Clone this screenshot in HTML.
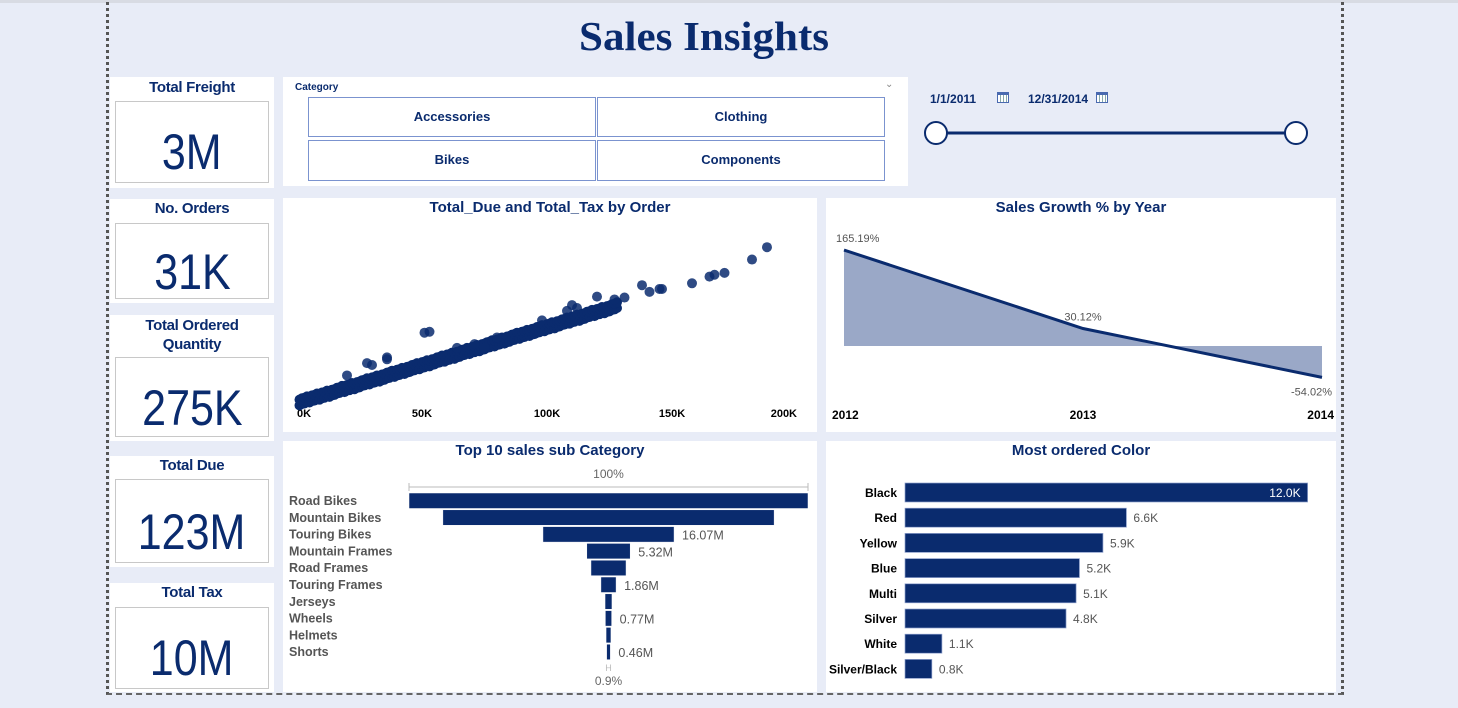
<!DOCTYPE html>
<html><head><meta charset="utf-8">
<style>
*{margin:0;padding:0;box-sizing:border-box}
body{width:1458px;height:701px;background:#e8ecf7;position:relative;overflow:hidden;font-family:"Liberation Sans Narrow","Liberation Sans",sans-serif;color:#0a2b6e}
.abs{position:absolute}
.panel{position:absolute;background:#fff}
.kt{position:absolute;left:0;right:0;text-align:center;font-weight:bold;font-size:15px;color:#0a2b6e;letter-spacing:-0.3px}
.kb{position:absolute;border:1px solid #c8c8c8;background:#fff;text-align:center;font-size:50px;color:#0a2b6e}
.kb span{display:inline-block;transform:scaleX(0.86)}
.btn{position:absolute;border:1px solid #7b93cf;background:#fff;text-align:center;font-weight:bold;font-size:13px;line-height:38px;color:#0a2b6e}
.ct{position:absolute;left:0;right:0;text-align:center;font-weight:bold;font-size:15px;color:#0a2b6e}
svg text{font-family:"Liberation Sans Narrow","Liberation Sans",sans-serif}
</style></head><body>
<div class="abs" style="left:0;top:0;width:1458px;height:3px;background:#d8dbe3"></div>
<div class="abs" style="left:106px;top:2px;width:1238px;height:693px;border-left:3px dotted #555;border-right:3px dotted #555;border-bottom:2px dashed #666"></div>
<div class="abs" style="left:0;top:12px;width:1408px;text-align:center;font-family:'Liberation Serif',serif;font-weight:bold;font-size:41px;color:#0a2b6e"><span style="display:inline-block;transform:scaleX(1.05)">Sales Insights</span></div>

<div class="panel" style="left:110px;top:77px;width:164px;height:111px"><div class="kt" style="top:2px">Total Freight</div><div class="kb" style="left:5px;top:24px;width:154px;height:82px;line-height:100px"><span>3M</span></div></div>
<div class="panel" style="left:110px;top:199px;width:164px;height:104px"><div class="kt" style="top:1px">No. Orders</div><div class="kb" style="left:5px;top:24px;width:154px;height:76px;line-height:96px"><span>31K</span></div></div>
<div class="panel" style="left:110px;top:315px;width:164px;height:126px"><div class="kt" style="top:1px;line-height:19px">Total Ordered<br>Quantity</div><div class="kb" style="left:5px;top:42px;width:154px;height:80px;line-height:100px"><span>275K</span></div></div>
<div class="panel" style="left:110px;top:456px;width:164px;height:111px"><div class="kt" style="top:1px">Total Due</div><div class="kb" style="left:5px;top:23px;width:154px;height:84px;line-height:104px"><span>123M</span></div></div>
<div class="panel" style="left:110px;top:583px;width:164px;height:109px"><div class="kt" style="top:1px">Total Tax</div><div class="kb" style="left:5px;top:24px;width:154px;height:82px;line-height:100px"><span>10M</span></div></div>

<div class="panel" style="left:283px;top:77px;width:625px;height:109px">
<div class="abs" style="left:12px;top:5px;font-size:10px;font-weight:bold">Category</div>
<div class="abs" style="left:602px;top:2px;font-size:10px;color:#888">&#8964;</div>
<div class="btn" style="left:25px;top:20px;width:288px;height:40px">Accessories</div>
<div class="btn" style="left:314px;top:20px;width:288px;height:40px">Clothing</div>
<div class="btn" style="left:25px;top:63px;width:288px;height:41px">Bikes</div>
<div class="btn" style="left:314px;top:63px;width:288px;height:41px">Components</div>
</div>

<div class="abs" style="left:930px;top:92px;font-size:12px;font-weight:bold">1/1/2011</div>
<div class="abs" style="left:997px;top:92px;width:12px;height:11px;border:1px solid #4a6ab0;border-top:3px solid #4a6ab0;background:repeating-linear-gradient(90deg,#fff 0 2px,#8aa 2px 3px)"></div>
<div class="abs" style="left:1028px;top:92px;font-size:12px;font-weight:bold">12/31/2014</div>
<div class="abs" style="left:1096px;top:92px;width:12px;height:11px;border:1px solid #4a6ab0;border-top:3px solid #4a6ab0;background:repeating-linear-gradient(90deg,#fff 0 2px,#8aa 2px 3px)"></div>
<svg class="abs" style="left:900px;top:110px" width="430" height="50">
<line x1="36" y1="23" x2="396" y2="23" stroke="#0a2b6e" stroke-width="3"/>
<circle cx="36" cy="23" r="11" fill="#fff" stroke="#0a2b6e" stroke-width="2"/>
<circle cx="396" cy="23" r="11" fill="#fff" stroke="#0a2b6e" stroke-width="2"/>
</svg>

<div class="panel" style="left:283px;top:198px;width:534px;height:234px"><div class="ct" style="top:1px">Total_Due and Total_Tax by Order</div>
<svg id="sc" class="abs" style="left:0;top:0" width="534" height="234"></svg></div>

<div class="panel" style="left:826px;top:198px;width:510px;height:234px"><div class="ct" style="top:1px">Sales Growth % by Year</div>
<svg id="gr" class="abs" style="left:0;top:0" width="510" height="234"></svg></div>

<div class="panel" style="left:283px;top:441px;width:534px;height:251px"><div class="ct" style="top:1px">Top 10 sales sub Category</div>
<svg id="fn" class="abs" style="left:0;top:0" width="534" height="251"></svg></div>

<div class="panel" style="left:826px;top:441px;width:510px;height:251px"><div class="ct" style="top:1px">Most ordered Color</div>
<svg id="cb" class="abs" style="left:0;top:0" width="510" height="251"></svg></div>

<script>
const NS='http://www.w3.org/2000/svg';
function mk(p,t,a,txt){const e=document.createElementNS(NS,t);for(const k in a)e.setAttribute(k,a[k]);if(txt!==undefined)e.textContent=txt;p.appendChild(e);return e;}

// Scatter data (K)
const scDue=[1,3,5,7,9,11,13,15,17,19,21,23,25,27,29,31,33,35,37,39,41,43,45,47,49,51,53,55,57,59,61,63,65,67,69,71,73,75,77,79,81,83,85,87,89,91,93,95,97,99,101,103,105,107,109,111,113,115,117,119,121,123,125,127,20,28,30,36,36,51,53,64,71,75,80,98,108,110,112,120,127,131,138,141,145,146,158,165,167,171,182,188];
const scTax=[0.1,0.3,0.4,0.6,0.7,0.9,1.0,1.2,1.4,1.5,1.7,1.8,2.0,2.2,2.3,2.5,2.6,2.8,3.0,3.1,3.3,3.4,3.6,3.8,3.9,4.1,4.2,4.4,4.6,4.7,4.9,5.0,5.2,5.4,5.5,5.7,5.8,6.0,6.2,6.3,6.5,6.6,6.8,7.0,7.1,7.3,7.4,7.6,7.8,7.9,8.1,8.2,8.4,8.6,8.7,8.9,9.0,9.2,9.4,9.5,9.7,9.8,10.0,10.2,2.9,4.2,4.0,4.8,4.6,7.4,7.5,5.8,6.2,5.8,6.9,8.7,9.7,10.3,10.0,11.2,10.9,11.1,12.4,11.7,12.0,12.0,12.6,13.3,13.5,13.7,15.1,16.4];
const scTicks=['0K','50K','100K','150K','200K'];
const scTickVals=[0,50,100,150,200];
(function(){const s=document.getElementById('sc');
 const x=v=>14+v*2.5, y=v=>205-v*9.5;
 scTickVals.forEach((v,i)=>{const t=mk(s,'text',{x:x(v),y:219,'text-anchor':i==0?'start':(i==4?'end':'middle'),'font-size':11,'font-weight':'bold',fill:'#000'},scTicks[i]);
 
 });
 const band=64;
 scDue.forEach((d,i)=>{const tx=scTax[i];
  const offs=i<band?[[0,-0.35],[1,-0.2],[0,0.25],[1,0.4]]:[[0,0]];
  offs.forEach(o=>{const c=mk(s,'circle',{cx:x(d+o[0]),cy:y(tx+o[1]),r:5,fill:'#0a2b6e','fill-opacity':i<band?1:0.85});
  
  });});
})();

// Growth
const grYears=['2012','2013','2014'];
const grVals=[165.19,30.12,-54.02];
const grLabels=['165.19%','30.12%','-54.02%'];
(function(){const s=document.getElementById('gr');
 const x=i=>18+i*239, y=v=>148-v*0.581;
 let d='M'+x(0)+','+y(0);grVals.forEach((v,i)=>d+=' L'+x(i)+','+y(v));d+=' L'+x(2)+','+y(0)+' Z';
 const a=mk(s,'path',{d:d,fill:'#9aa8c7'});
 
 
 const l=mk(s,'polyline',{points:grVals.map((v,i)=>x(i)+','+y(v)).join(' '),fill:'none',stroke:'#0a2b6e','stroke-width':3});
 
 
 grVals.forEach((v,i)=>{const t=mk(s,'text',{x:i==0?x(i)-8:(i==2?x(i)+10:x(i)),y:v<0?y(v)+18:y(v)-8,'text-anchor':i==0?'start':(i==2?'end':'middle'),'font-size':11,fill:'#555'},grLabels[i]);
  
  
  const yt=mk(s,'text',{x:i==0?6:(i==2?508:x(i)),y:221,'text-anchor':i==0?'start':(i==2?'end':'middle'),'font-size':12,'font-weight':'bold',fill:'#000'},grYears[i]);
  
  });
})();

// Funnel
const fnCats=['Road Bikes','Mountain Bikes','Touring Bikes','Mountain Frames','Road Frames','Touring Frames','Jerseys','Wheels','Helmets','Shorts'];
const fnVals=[48.9,40.6,16.07,5.32,4.3,1.86,0.85,0.77,0.6,0.46];
const fnLabels=['','','16.07M','5.32M','','1.86M','','0.77M','','0.46M'];
(function(){const s=document.getElementById('fn');
 const cx=325.5, W=399, max=Math.max(...fnVals), w=v=>v/max*W, y=i=>52+i*16.8;
 mk(s,'text',{x:cx,y:37,'text-anchor':'middle','font-size':12,fill:'#666'},'100%');
 mk(s,'line',{x1:cx-W/2,y1:46,x2:cx+W/2,y2:46,stroke:'#bbb'});
 mk(s,'line',{x1:cx-W/2,y1:42,x2:cx-W/2,y2:50,stroke:'#bbb'});
 mk(s,'line',{x1:cx+W/2,y1:42,x2:cx+W/2,y2:50,stroke:'#bbb'});
 fnVals.forEach((v,i)=>{const r=mk(s,'rect',{x:cx-w(v)/2,y:y(i),width:w(v),height:15.5,fill:'#0a2b6e',stroke:'#fff','stroke-width':0.5});
  
  
  const t=mk(s,'text',{x:6,y:y(i)+12,'font-size':12.5,'font-weight':'bold',fill:'#555'},fnCats[i]);
  
  
  if(fnLabels[i]){const l=mk(s,'text',{x:cx+w(v)/2+8,y:y(i)+13,'font-size':12.5,fill:'#555'},fnLabels[i]);
  
  }});
 mk(s,'text',{x:cx,y:230,'text-anchor':'middle','font-size':9,fill:'#bbb'},'H');
 mk(s,'text',{x:cx,y:244,'text-anchor':'middle','font-size':12,fill:'#666'},'0.9%');
})();

// Color bars
const cbCats=['Black','Red','Yellow','Blue','Multi','Silver','White','Silver/Black'];
const cbVals=[12.0,6.6,5.9,5.2,5.1,4.8,1.1,0.8];
const cbLabels=['12.0K','6.6K','5.9K','5.2K','5.1K','4.8K','1.1K','0.8K'];
(function(){const s=document.getElementById('cb');
 const x0=79, sc=33.55, y=i=>42+i*25.2;
 cbVals.forEach((v,i)=>{const r=mk(s,'rect',{x:x0,y:y(i),width:v*sc,height:19,fill:'#0a2b6e',stroke:'#8ea0cc','stroke-width':0.7});
  
  
  const t=mk(s,'text',{x:71,y:y(i)+14,'text-anchor':'end','font-size':12,'font-weight':'bold',fill:'#000'},cbCats[i]);
  
  
  const inside=i==0;
  const l=mk(s,'text',{x:inside?x0+v*sc-7:x0+v*sc+7,y:y(i)+14,'text-anchor':inside?'end':'start','font-size':12,fill:inside?'#fff':'#555'},cbLabels[i]);
  
  });
})();
</script>
</body></html>
